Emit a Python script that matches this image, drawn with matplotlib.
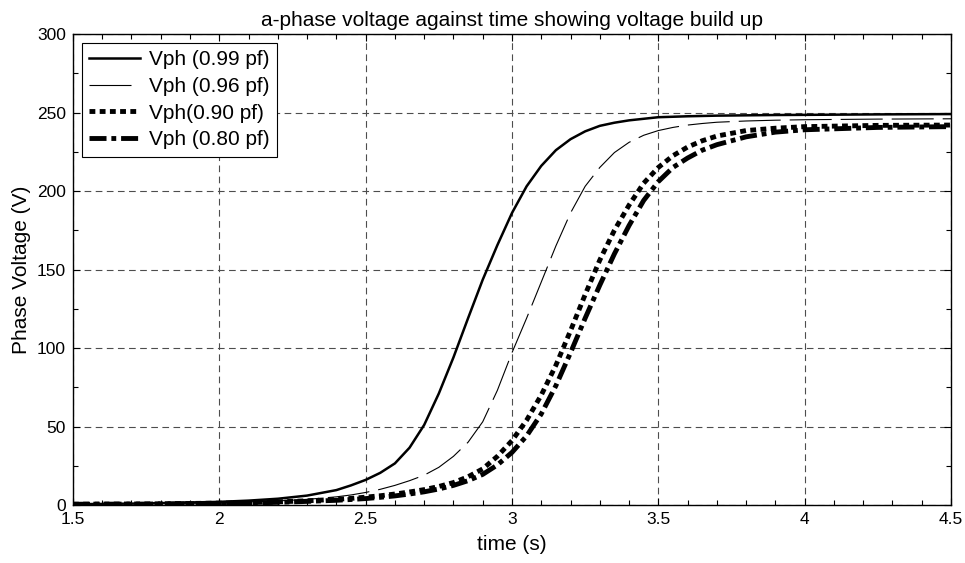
import matplotlib
matplotlib.use("Agg")
import matplotlib.pyplot as plt
from matplotlib.ticker import MultipleLocator

plt.rcParams['font.family'] = ['Liberation Sans', 'DejaVu Sans']

# ---- data ----
time_s = [1.5, 1.75, 2.0, 2.1, 2.2, 2.3, 2.4, 2.45, 2.5, 2.55, 2.6, 2.65,
          2.7, 2.75, 2.8, 2.85, 2.9, 2.95, 3.0, 3.05, 3.1, 3.15, 3.2, 3.25,
          3.3, 3.35, 3.4, 3.45, 3.5, 3.55, 3.6, 3.65, 3.7, 3.8, 3.9, 4.0,
          4.25, 4.5]

vph_099 = [0.5, 1.0, 2.0, 2.8, 4.0, 6.0, 9.5, 12.5, 16, 20.5, 26.5, 36.5,
           51, 71, 94, 119, 143.5, 165.5, 186, 203, 216, 226, 233, 238,
           241.5, 243.5, 245, 246, 247, 247.3, 247.6, 247.8, 248, 248.2, 248.4, 248.5,
           248.8, 249]

vph_096 = [0.5, 0.8, 1.5, 2.0, 2.6, 3.6, 5.2, 6.4, 8.0, 10, 12.5, 15.5,
           19, 24, 31, 40, 53, 73, 97, 119, 142, 165, 186, 203,
           215, 224.5, 231, 235.5, 238.5, 240.5, 242, 243, 243.8, 244.6, 245.1, 245.4,
           245.8, 246]

vph_090 = [0.5, 0.7, 1.2, 1.5, 2.0, 2.7, 3.6, 4.2, 5.0, 5.9, 7.0, 8.3,
           9.8, 11.8, 14.3, 18, 23, 31, 41, 54, 70, 89, 111, 134,
           156, 175, 191, 205, 215, 222.5, 228, 232, 235, 238.5, 240, 241,
           241.8, 242]

vph_080 = [0.5, 0.6, 1.0, 1.3, 1.7, 2.3, 3.0, 3.5, 4.1, 4.9, 5.8, 7.0,
           8.4, 10.2, 12.5, 15.5, 19.5, 25.5, 33.5, 44, 58, 76, 97, 119,
           140, 160, 178, 194, 206, 215, 221, 226, 229.5, 234.5, 237.5, 239,
           240.5, 241]

labels = ['Vph (0.99 pf)', 'Vph (0.96 pf)', 'Vph(0.90 pf)', 'Vph (0.80 pf)']

x_ticks = [1.5, 2, 2.5, 3, 3.5, 4, 4.5]
x_tick_labels = ['1.5', '2', '2.5', '3', '3.5', '4', '4.5']
y_ticks = [0, 50, 100, 150, 200, 250, 300]

# ---- figure ----
fig = plt.figure(figsize=(9.65, 5.63), dpi=100)
ax = fig.add_axes([0.0756, 0.103, 0.9099, 0.8366])

ax.plot(time_s, vph_099, color='black', lw=1.8, solid_joinstyle='round', label=labels[0])
ax.plot(time_s, vph_096, color='black', lw=0.8, dashes=(37.8, 8.1), label=labels[1])
ax.plot(time_s, vph_090, color='black', lw=3.5, dashes=(1.2, 0.9), label=labels[2])
ax.plot(time_s, vph_080, color='black', lw=3.5, dashes=(3.5, 1.0, 1.0, 1.0), label=labels[3])

ax.set_xlim(1.5, 4.5)
ax.set_ylim(0, 300)
ax.set_xticks(x_ticks)
ax.set_xticklabels(x_tick_labels)
ax.set_yticks(y_ticks)
ax.xaxis.set_minor_locator(MultipleLocator(0.1))
ax.yaxis.set_minor_locator(MultipleLocator(25))
ax.tick_params(which='both', direction='in', top=True, right=True,
               labelsize=12.5, colors='black', width=0.8)
ax.tick_params(which='major', length=5, pad=5)
ax.tick_params(which='minor', length=3.5)

ax.grid(True, which='major', color='0.3', lw=0.8, linestyle=(0, (6, 4)))
ax.set_axisbelow(True)
for s in ax.spines.values():
    s.set_color('black')
    s.set_linewidth(1.0)

ax.set_xlabel('time (s)', fontsize=15, labelpad=6)
ax.set_ylabel('Phase Voltage (V)', fontsize=15, labelpad=4)
ax.set_title('a-phase voltage against time showing voltage build up', fontsize=15, pad=6)

leg = ax.legend(loc='upper left', fontsize=15, frameon=True, fancybox=False,
                edgecolor='black', framealpha=1, handlelength=2.45,
                borderpad=0.35, labelspacing=0.37, handletextpad=0.4,
                borderaxespad=0.0, bbox_to_anchor=(0.0103, 0.981))
leg.get_frame().set_linewidth(0.8)

fig.savefig('out.png', dpi=100)
